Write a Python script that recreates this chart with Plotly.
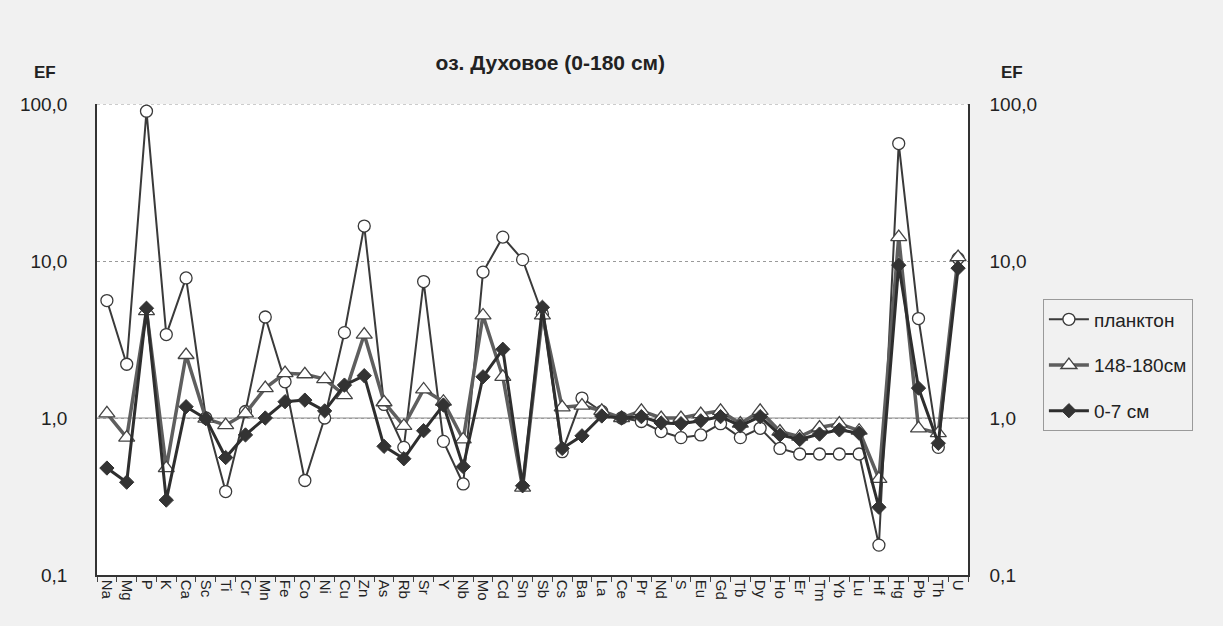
import plotly.graph_objects as go

elements = ["Na", "Mg", "P", "K", "Ca", "Sc", "Ti", "Cr", "Mn", "Fe", "Co", "Ni", "Cu", "Zn",
            "As", "Rb", "Sr", "Y", "Nb", "Mo", "Cd", "Sn", "Sb", "Cs", "Ba", "La", "Ce", "Pr",
            "Nd", "S", "Eu", "Gd", "Tb", "Dy", "Ho", "Er", "Tm", "Yb", "Lu", "Hf", "Hg", "Pb",
            "Th", "U"]

plankton = [5.6, 2.2, 90, 3.4, 7.8, 1.0, 0.34, 1.1, 4.4, 1.7, 0.40, 1.0, 3.5, 16.7,
            1.22, 0.65, 7.4, 0.71, 0.38, 8.5, 14.2, 10.2, 4.6, 0.61, 1.34, 1.1, 1.0, 0.95,
            0.82, 0.75, 0.78, 0.92, 0.75, 0.86, 0.64, 0.59, 0.59, 0.59, 0.59, 0.155, 56, 4.3,
            0.65, 10.4]

core_148_180 = [1.07, 0.75, 4.8, 0.48, 2.52, 0.99, 0.90, 1.07, 1.55, 1.93, 1.9, 1.77, 1.4, 3.4,
                1.26, 0.89, 1.52, 1.27, 0.73, 4.5, 1.83, 0.36, 4.5, 1.17, 1.2, 1.11, 1.0, 1.11,
                1.0, 1.0, 1.06, 1.11, 0.92, 1.11, 0.82, 0.76, 0.87, 0.92, 0.83, 0.41, 14.2, 0.86,
                0.8, 10.6]

core_0_7 = [0.48, 0.39, 5.0, 0.30, 1.18, 0.99, 0.56, 0.78, 1.0, 1.27, 1.3, 1.11, 1.62, 1.86,
            0.66, 0.55, 0.83, 1.21, 0.49, 1.83, 2.74, 0.37, 5.07, 0.64, 0.77, 1.03, 1.0, 1.02,
            0.93, 0.92, 0.96, 1.02, 0.89, 1.02, 0.78, 0.73, 0.79, 0.84, 0.80, 0.27, 9.4, 1.55,
            0.69, 9.0]

tick_vals = [0.1, 1, 10, 100]
tick_text = ["0,1", "1,0", "10,0", "100,0"]

FONT = "Liberation Sans, Arial, sans-serif"
TXT = "#222222"

fig = go.Figure()

fig.add_trace(go.Scatter(
    x=elements, y=plankton, name="планктон", mode="lines+markers",
    line=dict(color="#3a3a3a", width=2),
    marker=dict(symbol="circle", size=12, color="white", line=dict(color="#3a3a3a", width=1.3)),
    legendgroup="a"))

fig.add_trace(go.Scatter(
    x=elements, y=core_148_180, name="148-180см", mode="lines+markers",
    line=dict(color="#5e5e5e", width=3.5),
    marker=dict(symbol="triangle-up", size=14, color="white", line=dict(color="#444444", width=1.3)),
    legendgroup="b"))

fig.add_trace(go.Scatter(
    x=elements, y=core_0_7, name="0-7 см", mode="lines+markers",
    line=dict(color="#2e2e2e", width=3),
    marker=dict(symbol="diamond", size=11, color="#333333", line=dict(color="#333333", width=1)),
    legendgroup="c"))

# invisible copy to activate the right-hand axis
fig.add_trace(go.Scatter(
    x=elements, y=core_0_7, yaxis="y2", mode="lines", opacity=0,
    showlegend=False, hoverinfo="skip"))

fig.add_hline(y=1, line=dict(color="#8a8a8a", width=1), layer="below")
fig.add_hline(y=100, line=dict(color="#9a9a9a", width=1, dash="dot"), layer="below")

fig.update_layout(
    width=1223, height=626,
    margin=dict(l=97, r=255, t=104, b=51),
    paper_bgcolor="#f1f1f1",
    plot_bgcolor="white",
    font=dict(family=FONT, color=TXT),
    title=dict(text="<b>оз. Духовое (0-180 см)</b>", x=0.45, xanchor="center",
               y=0.9, yanchor="middle", yref="container",
               font=dict(size=21, family=FONT, color=TXT)),
    xaxis=dict(
        type="category", range=[-0.5, 43.5],
        tickangle=90, tickfont=dict(size=15, family=FONT, color=TXT),
        showgrid=False, showline=True, linecolor="#333333", linewidth=1.5,
        ticks="outside", ticklen=5, tickcolor="#444444", tickson="boundaries",
        mirror=False, zeroline=False),
    yaxis=dict(
        type="log", range=[-1, 2], tickvals=tick_vals, ticktext=tick_text,
        tickfont=dict(size=19, family=FONT, color=TXT),
        showgrid=True, gridcolor="#9a9a9a", griddash="dot", gridwidth=1,
        showline=True, linecolor="#333333", linewidth=1.5,
        ticks="outside", ticklen=24, tickcolor="rgba(0,0,0,0)", zeroline=False),
    yaxis2=dict(
        type="log", range=[-1, 2], tickvals=tick_vals, ticktext=tick_text,
        overlaying="y", side="right",
        tickfont=dict(size=19, family=FONT, color=TXT),
        showgrid=False, showline=True, linecolor="#333333", linewidth=1.5,
        ticks="outside", ticklen=16, tickcolor="rgba(0,0,0,0)", zeroline=False),
    legend=dict(
        x=1.086, y=0.585, xanchor="left", yanchor="top",
        bgcolor="#f1f1f1", bordercolor="#9a9a9a", borderwidth=1,
        font=dict(size=19, family=FONT, color=TXT),
        traceorder="grouped", tracegroupgap=18, itemwidth=40),
    showlegend=True,
)

plot_l, plot_r, plot_t, plot_b = 97, 968, 104, 575
def px(xp):
    return (xp - plot_l) / (plot_r - plot_l)
def py(yp):
    return (plot_b - yp) / (plot_b - plot_t)

for xp in (45, 1012):
    fig.add_annotation(text="<b>EF</b>", x=px(xp), y=py(72), xref="paper", yref="paper",
                       xanchor="center", yanchor="middle", showarrow=False,
                       font=dict(size=17, family=FONT, color=TXT))

fig.write_html("out.html", config={"displayModeBar": False},
               post_script="document.body.style.margin='0';")
